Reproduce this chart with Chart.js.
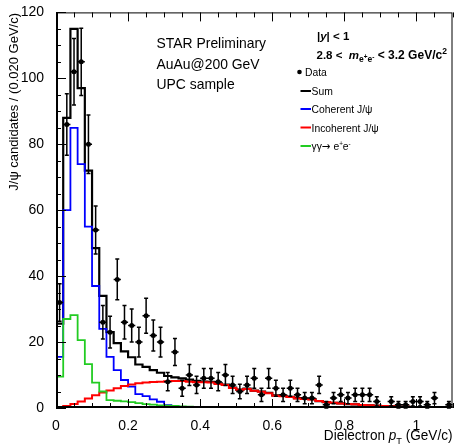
<!DOCTYPE html>
<html>
<head>
<meta charset="utf-8">
<title>J/psi pT</title>
<script src="https://cdn.jsdelivr.net/npm/chart.js@4.4.1/dist/chart.umd.min.js"></script>
<style>
html,body{margin:0;padding:0;background:#fff;overflow:hidden;}
canvas{display:block;}
</style>
</head>
<body>
<canvas id="chart" width="455" height="445"></canvas>
<script>
// ---------------- data ----------------
const binWidth = 0.02;           // GeV/c per bin
const xMin = 0, xMax = 1.1;
const yMin = 0, yMax = 120;
const xTickLabels = [0, 0.2, 0.4, 0.6, 0.8, 1];
const yTickLabels = [0, 20, 40, 60, 80, 100, 120];

// data points (one per 0.02 GeV/c bin, null = empty bin)
const dataCounts = [32, 86, 102, 105, 80, 54, 26, 23, 39, 26,
                    25, 20, 28, 22, 20, 8, 17, 6, 10, 7,
                    9, 9, 8, 10, 7, 5, 7, 9, 4, 9,
                    6, 4, 6, 4, 3, 3, 7, 1, 3, 4,
                    3, 4, 4, 4, 2, null, 2, 1, 1, 2,
                    2, 1, 3, null, 1];
const dataErrors = [5.7, 9.3, 10.1, 10.2, 8.9, 7.3, 5.1, 4.8, 6.2, 5.1,
                    5.0, 4.5, 5.3, 4.7, 4.5, 2.8, 4.1, 2.4, 3.2, 2.6,
                    3.0, 3.0, 2.8, 3.2, 2.6, 2.2, 2.6, 3.0, 2.0, 3.0,
                    2.4, 2.0, 2.4, 2.0, 1.7, 1.7, 2.6, 1.0, 1.7, 2.0,
                    1.7, 2.0, 2.0, 2.0, 1.4, null, 1.4, 1.0, 1.0, 1.4,
                    1.4, 1.0, 1.7, null, 1.0];

const sumValues = [25.6, 88, 115, 97, 72, 48.5, 34, 23, 19.7, 17.2,
                   15.4, 13.2, 12.5, 11.5, 10.7, 9.7, 9.3, 9.0, 8.6, 8.2,
                   8.0, 7.9, 7.5, 7.1, 6.2, 5.6, 5.9, 5.3, 5.0, 4.6,
                   3.8, 3.7, 3.4, 3.0, 2.8, 2.7, 2.1, 1.8, 1.6, 1.4,
                   1.2, 1.1, 0.9, 0.8, 0.7, 0.6, 0.5, 0.4, 0.4, 0.3,
                   0.3, 0.2, 0.2, 0.2, 0.1];
const coherentValues = [15.5, 60, 85, 74, 55, 37, 24, 15.5, 11.5, 8.5,
                        6.5, 4.2, 3.6, 2.6, 1.9, 0.9, 0.5, 0.3, 0.2, 0.1,
                        0, 0, 0, 0, 0, 0, 0, 0, 0, 0,
                        0, 0, 0, 0, 0, 0, 0, 0, 0, 0,
                        0, 0, 0, 0, 0, 0, 0, 0, 0, 0,
                        0, 0, 0, 0, 0];
const incoherentValues = [0.2, 0.6, 1.2, 2.0, 2.9, 3.9, 4.7, 5.3, 6.0, 6.7,
                          7.1, 7.5, 7.7, 7.9, 8.0, 8.1, 8.2, 8.2, 8.0, 7.8,
                          7.8, 7.7, 7.3, 7.0, 6.1, 5.5, 5.8, 5.2, 4.9, 4.5,
                          3.7, 3.6, 3.3, 2.9, 2.7, 2.6, 2.1, 1.8, 1.6, 1.4,
                          1.2, 1.1, 0.9, 0.8, 0.7, 0.6, 0.5, 0.4, 0.4, 0.3,
                          0.3, 0.2, 0.2, 0.2, 0.1];
const gammaGammaValues = [9.5, 27, 28.2, 20.6, 13.3, 7.7, 5.0, 2.4, 2.2, 2.0,
                          1.8, 1.5, 1.2, 1.0, 0.8, 0.7, 0.6, 0.5, 0.4, 0.3,
                          0.3, 0.2, 0.2, 0.2, 0.1, 0.1, 0.1, 0.1, 0.1, 0.1,
                          0.1, 0.1, 0.1, 0.1, 0.1, 0.1, 0.1, 0.1, 0.1, 0.1,
                          0.1, 0.1, 0.1, 0.1, 0.1, 0.1, 0.1, 0.1, 0.1, 0.1,
                          0.1, 0.1, 0.1, 0.1, 0.1];

// ---------------- helpers ----------------
const FONT = '"Liberation Sans", Arial, Helvetica, sans-serif';
function binEdge(i) { return +(i * binWidth).toFixed(4); }
function stepPoints(vals) {
  const pts = vals.map((v, i) => ({ x: binEdge(i), y: v }));
  pts.push({ x: binEdge(vals.length), y: vals[vals.length - 1] });
  return pts;
}
const dataPoints = [];
dataCounts.forEach((v, i) => {
  if (v !== null) dataPoints.push({ x: +((i + 0.5) * binWidth).toFixed(4), y: v, err: dataErrors[i] });
});

function drawRich(ctx, x, y, segs, scaleX) {
  ctx.save();
  ctx.translate(x, y);
  ctx.scale(scaleX || 1, 1);
  ctx.textBaseline = 'alphabetic';
  ctx.textAlign = 'left';
  let cx = 0;
  for (const s of segs) {
    ctx.font = s.font;
    ctx.fillStyle = s.color || '#000';
    ctx.fillText(s.t, cx, s.dy || 0);
    cx += ctx.measureText(s.t).width;
  }
  ctx.restore();
}
function richWidth(ctx, segs, scaleX) {
  let w = 0;
  ctx.save();
  for (const s of segs) { ctx.font = s.font; w += ctx.measureText(s.t).width; }
  ctx.restore();
  return w * (scaleX || 1);
}

// error bars for the data points
const errorBarPlugin = {
  id: 'errorBars',
  beforeDatasetDraw(chart, args) {
    const ds = chart.data.datasets[args.index];
    if (ds.label !== 'Data') return;
    const { ctx, scales: { x, y } } = chart;
    ctx.save();
    ctx.strokeStyle = '#000';
    ctx.lineWidth = 1.5;
    ctx.beginPath();
    ds.data.forEach(p => {
      const px = x.getPixelForValue(p.x), py = y.getPixelForValue(p.y);
      const yt = y.getPixelForValue(p.y + p.err);
      const yb = y.getPixelForValue(Math.max(0, p.y - p.err));
      const xl = x.getPixelForValue(p.x - binWidth / 2);
      const xr = x.getPixelForValue(p.x + binWidth / 2);
      ctx.moveTo(px, yt); ctx.lineTo(px, yb);
      ctx.moveTo(xl, py); ctx.lineTo(xr, py);
      ctx.moveTo(px - 2, yt); ctx.lineTo(px + 2, yt);
      ctx.moveTo(px - 2, yb); ctx.lineTo(px + 2, yb);
    });
    ctx.stroke();
    ctx.restore();
  }
};

// ROOT-style frame with inward ticks
const framePlugin = {
  id: 'frame',
  afterDatasetsDraw(chart) {
    const { ctx, chartArea: a, scales: { x, y } } = chart;
    ctx.save();
    ctx.strokeStyle = '#000';
    ctx.lineWidth = 1;
    ctx.beginPath();
    for (let k = 0; k * 0.05 <= xMax + 1e-9; k++) {
      const px = Math.round(x.getPixelForValue(k * 0.05)) + 0.5;
      const len = (k % 4 === 0) ? 9 : 5;
      ctx.moveTo(px, a.bottom); ctx.lineTo(px, a.bottom - len);
      ctx.moveTo(px, a.top); ctx.lineTo(px, a.top + len);
    }
    for (let k = 0; k * 5 <= yMax; k++) {
      const py = Math.round(y.getPixelForValue(k * 5)) + 0.5;
      const len = (k % 4 === 0) ? 10 : 5;
      ctx.moveTo(a.left, py); ctx.lineTo(a.left + len, py);
    }
    ctx.stroke();
    ctx.lineWidth = 1;
    ctx.strokeRect(a.left + 0.5, a.top + 0.5, a.right - a.left - 1, a.bottom - a.top - 1);
    ctx.lineWidth = 2;
    ctx.beginPath();
    ctx.moveTo(a.left + 1, a.top); ctx.lineTo(a.left + 1, a.bottom);
    ctx.moveTo(a.left, a.bottom - 1); ctx.lineTo(a.right, a.bottom - 1);
    ctx.stroke();
    ctx.restore();
  }
};

// text annotations, axis titles and legend
const textPlugin = {
  id: 'texts',
  afterDraw(chart) {
    const { ctx, chartArea: a } = chart;
    const reg = (s) => s + 'px ' + FONT;
    const ita = (s) => 'italic ' + s + 'px ' + FONT;
    const bold = (s) => 'bold ' + s + 'px ' + FONT;
    const bita = (s) => 'italic bold ' + s + 'px ' + FONT;

    // STAR labels
    drawRich(ctx, 156.5, 48, [{ t: 'STAR Preliminary', font: reg(14.5) }], 0.96);
    drawRich(ctx, 156.5, 69, [{ t: 'AuAu@200 GeV', font: reg(14.5) }], 0.96);
    drawRich(ctx, 156.5, 88.7, [{ t: 'UPC sample', font: reg(14.5) }], 0.96);

    // cuts
    drawRich(ctx, 317, 39.5, [
      { t: '|', font: bold(11.5) }, { t: 'y', font: bita(11.5) }, { t: '| < 1', font: bold(11.5) }
    ]);
    drawRich(ctx, 316.5, 59, [
      { t: '2.8 <  ', font: bold(11.5) }, { t: 'm', font: bita(11.5) },
      { t: 'e', font: bold(8.5), dy: 3 }, { t: '+', font: bold(6.5), dy: -0.5 },
      { t: 'e', font: bold(8.5), dy: 3 }, { t: '-', font: bold(6.5), dy: -0.5 },
      { t: ' < 3.2 GeV/c', font: bold(12) }, { t: '2', font: bold(8.5), dy: -5 }
    ]);

    // legend
    ctx.save();
    ctx.fillStyle = '#000';
    ctx.beginPath(); ctx.arc(299.5, 72, 2.3, 0, Math.PI * 2); ctx.fill();
    ctx.restore();
    drawRich(ctx, 305, 76, [{ t: 'Data', font: reg(11.5) }], 0.9);
    const legendLines = [
      { color: '#000000', y: 91, segs: [{ t: 'Sum', font: reg(11.5) }] },
      { color: '#0000ff', y: 109, segs: [{ t: 'Coherent J/\u03c8', font: reg(11.5) }] },
      { color: '#ff0000', y: 127.5, segs: [{ t: 'Incoherent J/\u03c8', font: reg(11.5) }] },
      { color: '#22cc22', y: 146, segs: [
        { t: '\u03b3\u03b3', font: reg(11.5) }, { t: '\u2192', font: '11.5px "DejaVu Sans", sans-serif' },
        { t: ' e', font: reg(11.5) }, { t: '+', font: reg(7), dy: -4 },
        { t: 'e', font: reg(11.5) }, { t: '-', font: reg(7), dy: -4 } ] }
    ];
    legendLines.forEach(l => {
      ctx.save();
      ctx.strokeStyle = l.color; ctx.lineWidth = 2;
      ctx.beginPath(); ctx.moveTo(300.5, l.y); ctx.lineTo(311, l.y); ctx.stroke();
      ctx.restore();
      drawRich(ctx, 311.5, l.y + 4.3, l.segs, 0.9);
    });

    // x-axis title (right aligned)
    const xt = [
      { t: 'Dielectron ', font: reg(14) }, { t: 'p', font: ita(14) },
      { t: 'T', font: reg(9.5), dy: 4 }, { t: ' (GeV/c)', font: reg(14) }
    ];
    const wx = richWidth(ctx, xt, 0.97);
    drawRich(ctx, a.right - wx, 439.5, xt, 0.97);

    // y-axis title (rotated, aligned to top)
    ctx.save();
    ctx.translate(17.5, 13);
    ctx.rotate(-Math.PI / 2);
    ctx.font = reg(13);
    ctx.fillStyle = '#000';
    ctx.textAlign = 'right';
    ctx.textBaseline = 'alphabetic';
    ctx.fillText('J/\u03c8 candidates / (0.020 GeV/c)', 0, 0);
    ctx.restore();
  }
};

// ---------------- chart ----------------
const ctx = document.getElementById('chart').getContext('2d');
new Chart(ctx, {
  data: {
    datasets: [
      { type: 'scatter', label: 'Data', data: dataPoints, pointRadius: 2.5, pointHoverRadius: 2.5,
        pointBackgroundColor: '#000', pointBorderColor: '#000', pointBorderWidth: 0, order: 0 },
      { type: 'line', label: 'gamma gamma', data: stepPoints(gammaGammaValues), stepped: 'before',
        borderColor: '#22cc22', borderWidth: 1.8, pointRadius: 0, fill: false, order: 1 },
      { type: 'line', label: 'Incoherent', data: stepPoints(incoherentValues), stepped: 'before',
        borderColor: '#ff0000', borderWidth: 2, pointRadius: 0, fill: false, order: 2 },
      { type: 'line', label: 'Coherent', data: stepPoints(coherentValues), stepped: 'before',
        borderColor: '#0000ff', borderWidth: 1.8, pointRadius: 0, fill: false, order: 3 },
      { type: 'line', label: 'Sum', data: stepPoints(sumValues), stepped: 'before',
        borderColor: '#000000', borderWidth: 2.2, pointRadius: 0, fill: false, order: 4 }
    ]
  },
  options: {
    responsive: false,
    animation: false,
    devicePixelRatio: 1,
    layout: { padding: { left: 0, right: 2, top: 12, bottom: 0 } },
    plugins: { legend: { display: false }, tooltip: { enabled: false } },
    scales: {
      x: {
        type: 'linear', min: xMin, max: xMax,
        grid: { display: false }, border: { display: false },
        afterBuildTicks: (axis) => { axis.ticks = xTickLabels.map(v => ({ value: v })); },
        afterFit: (axis) => { axis.height = 37; },
        ticks: { color: '#000', padding: 2, maxRotation: 0, autoSkip: false,
                 font: { family: FONT, size: 14 }, callback: (v) => String(v) }
      },
      y: {
        type: 'linear', min: yMin, max: yMax,
        grid: { display: false }, border: { display: false },
        afterBuildTicks: (axis) => { axis.ticks = yTickLabels.map(v => ({ value: v })); },
        afterFit: (axis) => { axis.width = 56; },
        ticks: { color: '#000', padding: 4, autoSkip: false,
                 font: { family: FONT, size: 14 }, callback: (v) => String(v) }
      }
    }
  },
  plugins: [errorBarPlugin, framePlugin, textPlugin]
});
</script>
</body>
</html>
